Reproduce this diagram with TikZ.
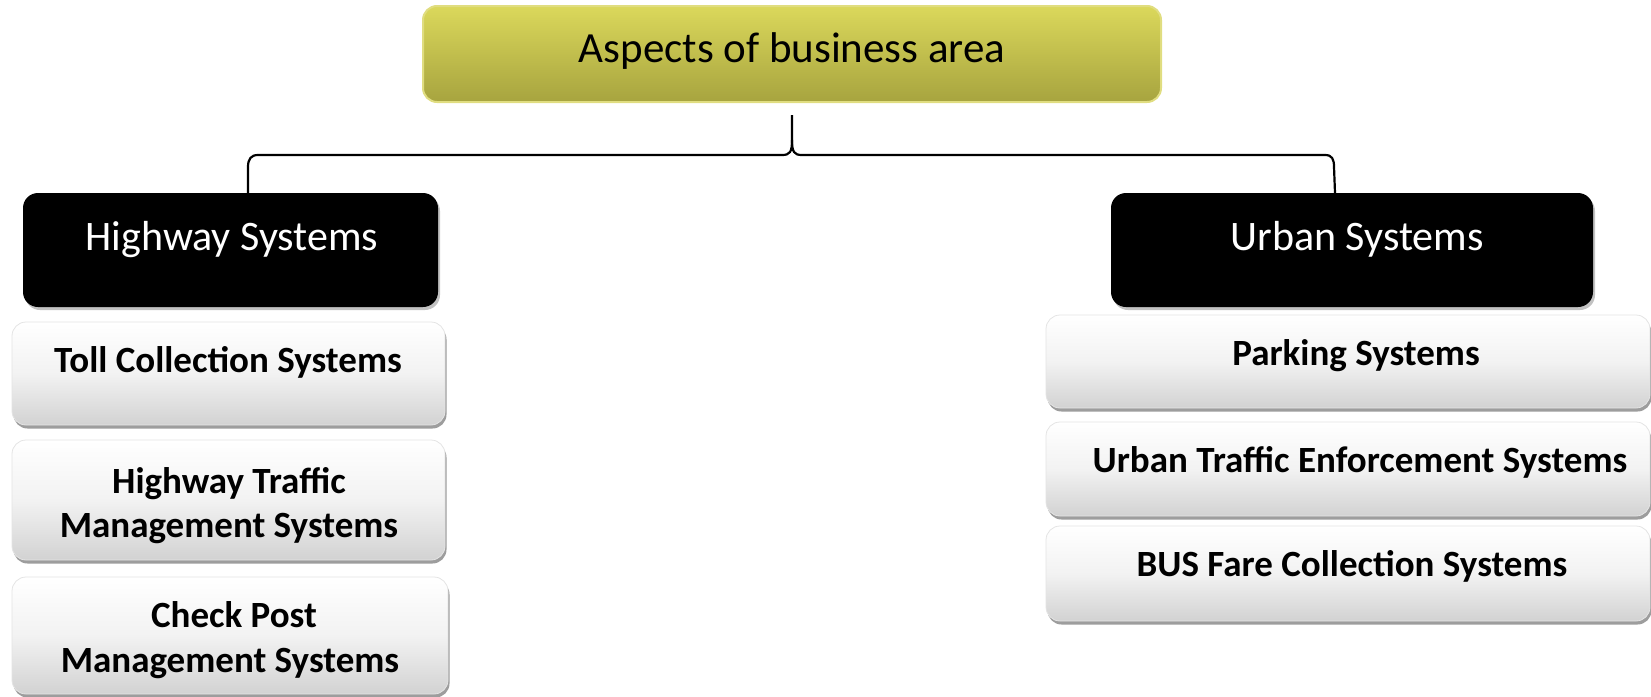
\documentclass[tikz,border=0pt]{standalone}
\usepackage{fontspec}
\setmainfont{Carlito}
\usetikzlibrary{shadows}
\definecolor{ytop}{HTML}{DBD85B}
\definecolor{ybot}{HTML}{A7A43F}
\definecolor{yedge}{HTML}{E0DD80}
\definecolor{gbot}{HTML}{D2D2D2}
\definecolor{gedge}{HTML}{E4E4E4}
\begin{document}
\begin{tikzpicture}[x=1pt,y=-1pt,
  topbox/.style={draw=yedge, line width=2pt, rounded corners=14pt, top color=ytop, bottom color=ybot, inner sep=0pt},
  blackbox/.style={fill=black, rounded corners=15pt, inner sep=0pt, drop shadow={shadow xshift=2pt, shadow yshift=-3pt, fill=black!40, opacity=0.6}},
  graybox/.style={draw=gedge, line width=0.8pt, rounded corners=14pt, top color=white, bottom color=gbot, middle color=black!5, inner sep=0pt, drop shadow={shadow xshift=1.5pt, shadow yshift=-3.5pt, fill=black!55, opacity=0.7}},
  toptext/.style={font=\fontsize{43}{50}\selectfont, text=black, anchor=base, inner sep=0pt},
  whitetext/.style={font=\fontsize{42}{50}\selectfont, text=white, anchor=base, inner sep=0pt},
  boldtext/.style={font=\bfseries\fontsize{37}{44}\selectfont, text=black, anchor=base, inner sep=0pt},
  brace/.style={line width=2.2pt, black}]
\useasboundingbox (0,0) rectangle (1651,696);
% boxes
\node[topbox, minimum width=738pt, minimum height=96pt] (top) at (792,54) {};
\node[toptext] (topT) at (792,62) {Aspects of business area};
\node[blackbox, minimum width=415pt, minimum height=114pt] (hs) at (230.5,250) {};
\node[whitetext] (hsT) at (232,250) {Highway Systems};
\node[blackbox, minimum width=482pt, minimum height=114pt] (us) at (1352,250) {};
\node[whitetext] (usT) at (1357,250) {Urban Systems};
% left items
\node[graybox, minimum width=433pt, minimum height=103pt] (toll) at (228.5,373.5) {};
\node[boldtext] (tollT) at (228,372) {Toll Collection Systems};
\node[graybox, minimum width=433pt, minimum height=120pt] (htm) at (228.5,500) {};
\node[boldtext] (htmA) at (229,493) {Highway Traffic};
\node[boldtext] (htmB) at (229,537) {Management Systems};
\node[graybox, minimum width=436pt, minimum height=117pt] (cp) at (230,635.5) {};
\node[boldtext] (cpA) at (234,627) {Check Post};
\node[boldtext] (cpB) at (230,672) {Management Systems};
% right items
\node[graybox, minimum width=604pt, minimum height=93pt] (park) at (1348,361.5) {};
\node[boldtext] (parkT) at (1356,365) {Parking Systems};
\node[graybox, minimum width=604pt, minimum height=94pt] (ute) at (1348,469) {};
\node[boldtext] (uteT) at (1360,472) {Urban Traffic Enforcement Systems};
\node[graybox, minimum width=604pt, minimum height=95pt] (bus) at (1348,573.5) {};
\node[boldtext] (busT) at (1352,576) {BUS Fare Collection Systems};
% brace connector
\coordinate (stem) at (792,115);
\coordinate (cusp) at (792,140);
\coordinate (lend) at (248,193);
\coordinate (rend) at (1335,193);
\draw[brace] (stem) -- (cusp) .. controls (792,152) and (790,155) .. (782,155)
  -- (258,155) .. controls (251,155) and (248,159) .. (248,167) -- (lend);
\draw[brace] (cusp) .. controls (792,152) and (794,155) .. (802,155)
  -- (1325,155) .. controls (1332,155) and (1334,159) .. (1334,167) -- (rend);
\end{tikzpicture}
\end{document}
